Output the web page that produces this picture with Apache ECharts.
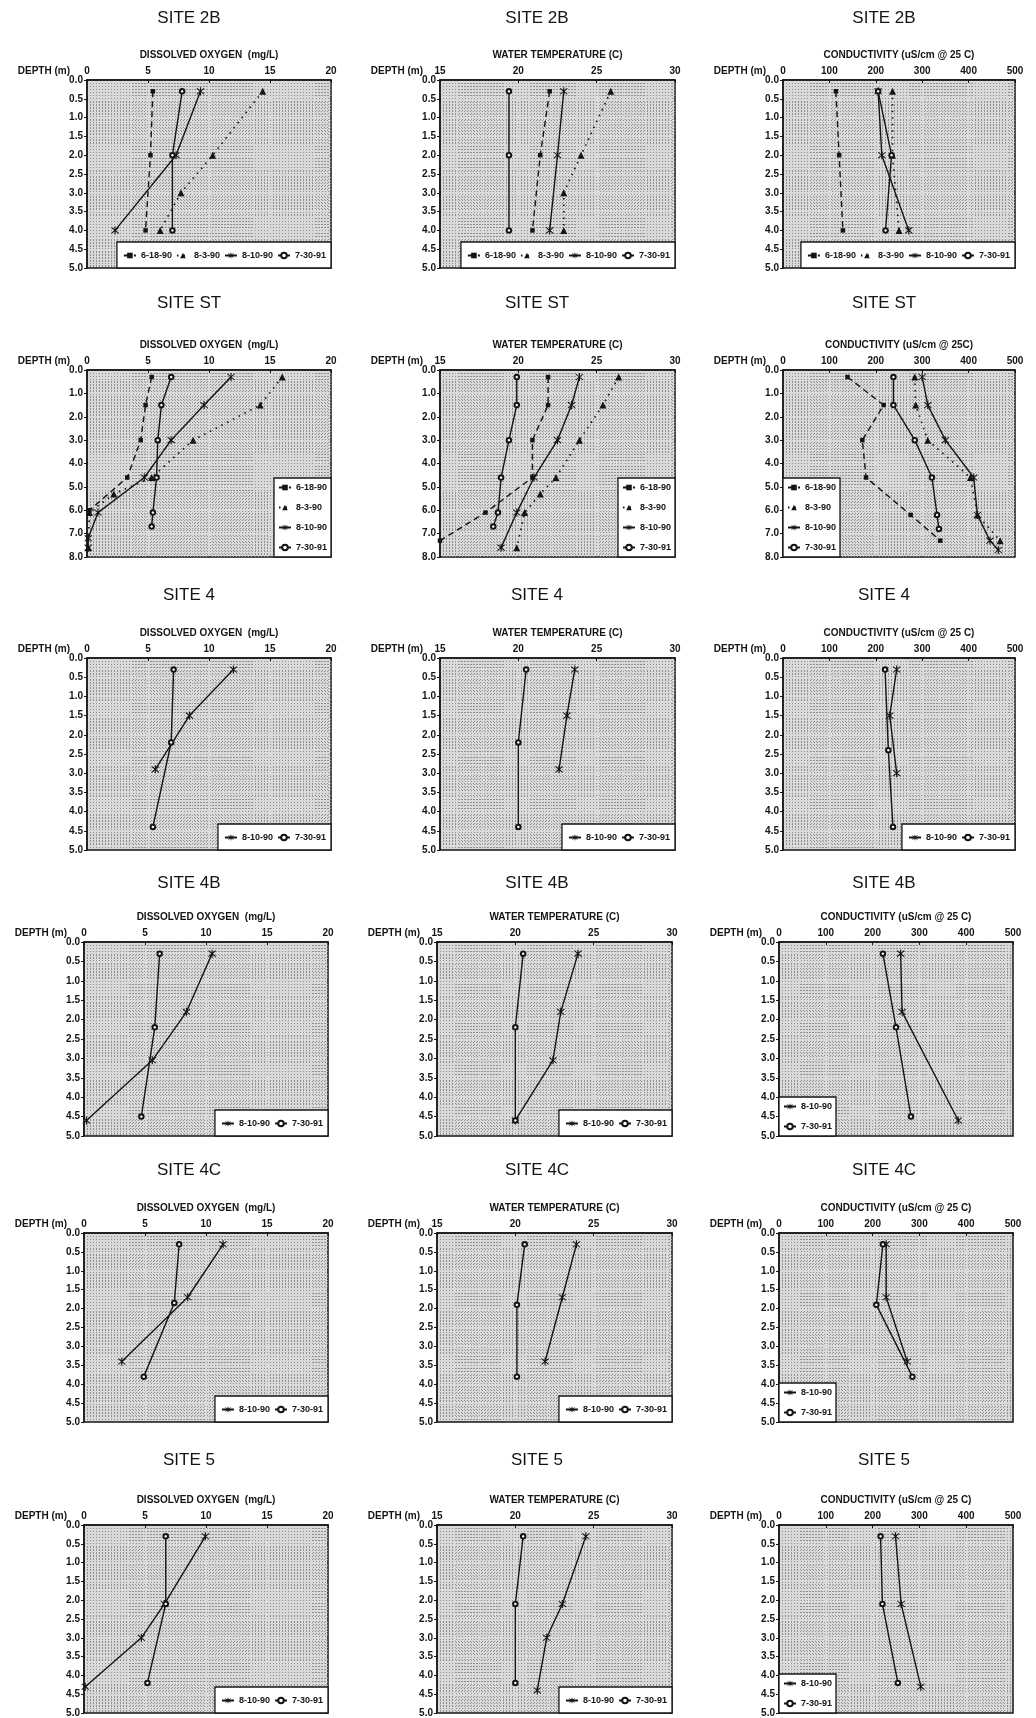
<!DOCTYPE html>
<html>
<head>
<meta charset="utf-8">
<script src="https://cdn.jsdelivr.net/npm/echarts@6/dist/echarts.min.js"></script>
<style>
html,body{margin:0;padding:0;background:#fff;}
#chart{width:1036px;height:1718px;}
</style>
</head>
<body>
<div id="chart"></div>
<script>
// ---------------- DATA ----------------
const siteNames = ['SITE 2B', 'SITE ST', 'SITE 4', 'SITE 4B', 'SITE 4C', 'SITE 5'];
const dates = ['6-18-90', '8-3-90', '8-10-90', '7-30-91'];
const paramNames = ['DISSOLVED OXYGEN  (mg/L)', 'WATER TEMPERATURE (C)', 'CONDUCTIVITY (uS/cm @ 25 C)'];
const condNameST = 'CONDUCTIVITY (uS/cm @ 25C)';
const depthLabel = 'DEPTH (m)';
const doTicks = [0, 5, 10, 15, 20];
const tempTicks = [15, 20, 25, 30];
const condTicks = [0, 100, 200, 300, 400, 500];
const depthTicks5 = [0, 0.5, 1, 1.5, 2, 2.5, 3, 3.5, 4, 4.5, 5];
const depthTicks8 = [0, 1, 2, 3, 4, 5, 6, 7, 8];

// values are [x, depth(m)]
// SITE 2B
const do2B_0618 = [[5.4, 0.3], [5.2, 2.0], [4.8, 4.0]];
const do2B_0803 = [[14.4, 0.3], [10.3, 2.0], [7.7, 3.0], [6.0, 4.0]];
const do2B_0810 = [[9.3, 0.3], [7.3, 2.0], [2.3, 4.0]];
const do2B_0730 = [[7.8, 0.3], [7.0, 2.0], [7.0, 4.0]];
const t2B_0618 = [[22.0, 0.3], [21.4, 2.0], [20.9, 4.0]];
const t2B_0803 = [[25.9, 0.3], [24.0, 2.0], [22.9, 3.0], [22.9, 4.0]];
const t2B_0810 = [[22.9, 0.3], [22.5, 2.0], [22.0, 4.0]];
const t2B_0730 = [[19.4, 0.3], [19.4, 2.0], [19.4, 4.0]];
const c2B_0618 = [[114, 0.3], [121, 2.0], [129, 4.0]];
const c2B_0803 = [[236, 0.3], [236, 2.0], [250, 4.0]];
const c2B_0810 = [[205, 0.3], [213, 2.0], [271, 4.0]];
const c2B_0730 = [[205, 0.3], [234, 2.0], [221, 4.0]];
// SITE ST
const doST_0618 = [[5.3, 0.3], [4.8, 1.5], [4.4, 3.0], [3.3, 4.6], [0.2, 6.0]];
const doST_0803 = [[16.0, 0.3], [14.2, 1.5], [8.7, 3.0], [5.3, 4.6], [2.2, 5.3], [0.2, 6.1], [0.1, 7.6]];
const doST_0810 = [[11.8, 0.3], [9.6, 1.5], [6.9, 3.0], [4.7, 4.6], [0.9, 6.1], [0.1, 7.2], [0.1, 7.6]];
const doST_0730 = [[6.9, 0.3], [6.1, 1.5], [5.8, 3.0], [5.7, 4.6], [5.4, 6.1], [5.3, 6.7]];
const tST_0618 = [[21.9, 0.3], [21.9, 1.5], [20.9, 3.0], [20.9, 4.6], [17.9, 6.1], [15.0, 7.3]];
const tST_0803 = [[26.4, 0.3], [25.4, 1.5], [23.9, 3.0], [22.4, 4.6], [21.4, 5.3], [20.4, 6.1], [19.9, 7.6]];
const tST_0810 = [[23.9, 0.3], [23.4, 1.5], [22.5, 3.0], [21.0, 4.6], [19.9, 6.1], [18.9, 7.6]];
const tST_0730 = [[19.9, 0.3], [19.9, 1.5], [19.4, 3.0], [18.9, 4.6], [18.7, 6.1], [18.4, 6.7]];
const cST_0618 = [[139, 0.3], [217, 1.5], [171, 3.0], [179, 4.6], [275, 6.2], [339, 7.3]];
const cST_0803 = [[284, 0.3], [286, 1.5], [312, 3.0], [404, 4.6], [419, 6.2], [468, 7.3]];
const cST_0810 = [[300, 0.3], [312, 1.5], [350, 3.0], [411, 4.6], [419, 6.2], [446, 7.3], [464, 7.7]];
const cST_0730 = [[238, 0.3], [238, 1.5], [284, 3.0], [321, 4.6], [332, 6.2], [336, 6.8]];
// SITE 4
const do4_0810 = [[12.0, 0.3], [8.4, 1.5], [5.6, 2.9]];
const do4_0730 = [[7.1, 0.3], [6.9, 2.2], [5.4, 4.4]];
const t4_0810 = [[23.6, 0.3], [23.1, 1.5], [22.6, 2.9]];
const t4_0730 = [[20.5, 0.3], [20.0, 2.2], [20.0, 4.4]];
const c4_0810 = [[245, 0.3], [230, 1.5], [245, 3.0]];
const c4_0730 = [[220, 0.3], [227, 2.4], [237, 4.4]];
// SITE 4B
const do4B_0810 = [[10.5, 0.3], [8.4, 1.8], [5.6, 3.05], [0.2, 4.6]];
const do4B_0730 = [[6.2, 0.3], [5.8, 2.2], [4.7, 4.5]];
const t4B_0810 = [[24.0, 0.3], [22.9, 1.8], [22.4, 3.05], [20.0, 4.6]];
const t4B_0730 = [[20.5, 0.3], [20.0, 2.2], [20.0, 4.6]];
const c4B_0810 = [[260, 0.3], [263, 1.8], [383, 4.6]];
const c4B_0730 = [[222, 0.3], [250, 2.2], [282, 4.5]];
// SITE 4C
const do4C_0810 = [[11.4, 0.3], [8.5, 1.7], [3.1, 3.4]];
const do4C_0730 = [[7.8, 0.3], [7.4, 1.85], [4.9, 3.8]];
const t4C_0810 = [[23.9, 0.3], [23.0, 1.7], [21.9, 3.4]];
const t4C_0730 = [[20.6, 0.3], [20.1, 1.9], [20.1, 3.8]];
const c4C_0810 = [[229, 0.3], [229, 1.7], [274, 3.4]];
const c4C_0730 = [[222, 0.3], [208, 1.9], [285, 3.8]];
// SITE 5
const do5_0810 = [[9.95, 0.3], [6.6, 2.1], [4.7, 3.0], [0.1, 4.3]];
const do5_0730 = [[6.7, 0.3], [6.7, 2.1], [5.2, 4.2]];
const t5_0810 = [[24.5, 0.3], [23.0, 2.1], [22.0, 3.0], [21.4, 4.4]];
const t5_0730 = [[20.5, 0.3], [20.0, 2.1], [20.0, 4.2]];
const c5_0810 = [[249, 0.3], [261, 2.1], [303, 4.3]];
const c5_0730 = [[217, 0.3], [221, 2.1], [254, 4.2]];

// ---------------- PANEL TABLE (built from the arrays) ----------------
const D = dates;
const panels = [
  // row, col, series [name, data], legend orient, legend corner
  [0, 0, [[D[0], do2B_0618], [D[1], do2B_0803], [D[2], do2B_0810], [D[3], do2B_0730]], 'h', 'br'],
  [0, 1, [[D[0], t2B_0618], [D[1], t2B_0803], [D[2], t2B_0810], [D[3], t2B_0730]], 'h', 'br'],
  [0, 2, [[D[0], c2B_0618], [D[1], c2B_0803], [D[2], c2B_0810], [D[3], c2B_0730]], 'h', 'br'],
  [1, 0, [[D[0], doST_0618], [D[1], doST_0803], [D[2], doST_0810], [D[3], doST_0730]], 'v', 'br'],
  [1, 1, [[D[0], tST_0618], [D[1], tST_0803], [D[2], tST_0810], [D[3], tST_0730]], 'v', 'br'],
  [1, 2, [[D[0], cST_0618], [D[1], cST_0803], [D[2], cST_0810], [D[3], cST_0730]], 'v', 'bl'],
  [2, 0, [[D[2], do4_0810], [D[3], do4_0730]], 'h', 'br'],
  [2, 1, [[D[2], t4_0810], [D[3], t4_0730]], 'h', 'br'],
  [2, 2, [[D[2], c4_0810], [D[3], c4_0730]], 'h', 'br'],
  [3, 0, [[D[2], do4B_0810], [D[3], do4B_0730]], 'h', 'br'],
  [3, 1, [[D[2], t4B_0810], [D[3], t4B_0730]], 'h', 'br'],
  [3, 2, [[D[2], c4B_0810], [D[3], c4B_0730]], 'v', 'bl'],
  [4, 0, [[D[2], do4C_0810], [D[3], do4C_0730]], 'h', 'br'],
  [4, 1, [[D[2], t4C_0810], [D[3], t4C_0730]], 'h', 'br'],
  [4, 2, [[D[2], c4C_0810], [D[3], c4C_0730]], 'v', 'bl'],
  [5, 0, [[D[2], do5_0810], [D[3], do5_0730]], 'h', 'br'],
  [5, 1, [[D[2], t5_0810], [D[3], t5_0730]], 'h', 'br'],
  [5, 2, [[D[2], c5_0810], [D[3], c5_0730]], 'v', 'bl']
];

// ---------------- LAYOUT / STYLE ----------------
const W = 1036, H = 1718;
const rowTop = [80, 370, 658, 942, 1233, 1525];
const rowBottom = [268, 557, 850, 1136, 1422, 1713];
const titleY = [18, 303, 595, 883, 1170, 1460];
const colLeftA = [87, 440, 783], colRightA = [331, 675, 1015];
const colLeftB = [84, 437, 779], colRightB = [328, 672, 1013];
const titleX = [189, 537, 884];
const FONT = "'Liberation Sans', Arial, Helvetica, sans-serif";
const INK = '#141414';
const asterisk = 'path://M4.4,0H5.6V10H4.4Z M0.9,1.7L1.7,0.9L9.1,8.3L8.3,9.1Z M8.3,0.9L9.1,1.7L1.7,9.1L0.9,8.3Z';
const seriesStyle = {
  '6-18-90': { symbol: 'rect', symbolSize: 4.5, line: { type: [6, 4], width: 1.4 } },
  '8-3-90': { symbol: 'triangle', symbolSize: 7, line: { type: [1.5, 5], width: 1.7 } },
  '8-10-90': { symbol: asterisk, symbolSize: 8, line: { type: 'solid', width: 1.4 } },
  '7-30-91': { symbol: 'emptyCircle', symbolSize: 4.5, line: { type: 'solid', width: 1.4 } }
};
const paramTicks = [doTicks, tempTicks, condTicks];
const minorSplits = [20, 25, 15];

const grids = [], xAxes = [], yAxes = [], series = [], legends = [], graphics = [];
const labelFont = { fontFamily: FONT, fontSize: 10, fontWeight: 'bold', color: INK };

panels.forEach((p, i) => {
  const [row, col, sers, orient, corner] = p;
  const left = (row < 3 ? colLeftA : colLeftB)[col];
  const right = (row < 3 ? colRightA : colRightB)[col];
  const top = rowTop[row], bottom = rowBottom[row];
  grids.push({
    left: left, top: top, width: right - left, height: bottom - top,
    show: true, backgroundColor: '#d9d9d9', borderColor: INK, borderWidth: 1.5
  });
  const ticks = paramTicks[col];
  const name = (row === 1 && col === 2) ? condNameST : paramNames[col];
  xAxes.push({
    type: 'value', gridIndex: i, position: 'top',
    min: ticks[0], max: ticks[ticks.length - 1], interval: ticks[1] - ticks[0],
    name: name, nameLocation: 'middle', nameGap: 20,
    nameTextStyle: { fontFamily: FONT, fontSize: 10, fontWeight: 'bold', color: INK },
    axisLine: { show: true, onZero: false, lineStyle: { color: INK, width: 1.5 } },
    axisTick: { show: true, inside: true, length: 3, lineStyle: { color: INK } },
    axisLabel: Object.assign({ margin: 4 }, labelFont),
    splitLine: { show: false },
    minorTick: { show: false, splitNumber: minorSplits[col] },
    minorSplitLine: { show: true, lineStyle: { color: '#8f8f8f', width: 1, type: [1, 2] } }
  });
  const dTicks = row === 1 ? depthTicks8 : depthTicks5;
  yAxes.push({
    type: 'value', gridIndex: i, inverse: true,
    min: dTicks[0], max: dTicks[dTicks.length - 1], interval: dTicks[1] - dTicks[0],
    axisLine: { show: true, onZero: false, lineStyle: { color: INK, width: 1.5 } },
    axisTick: { show: true, inside: false, length: 3, lineStyle: { color: INK } },
    axisLabel: Object.assign({ margin: 4, formatter: v => v.toFixed(1) }, labelFont),
    splitLine: { show: false },
    minorTick: { show: false, splitNumber: row === 1 ? 8 : 6 },
    minorSplitLine: { show: true, lineStyle: { color: '#8f8f8f', width: 1, type: [1, 2] } }
  });
  sers.forEach(([nm, data]) => {
    const st = seriesStyle[nm];
    series.push({
      type: 'line', name: nm, xAxisIndex: i, yAxisIndex: i, data: data,
      symbol: st.symbol, symbolSize: st.symbolSize, showAllSymbol: true,
      lineStyle: Object.assign({ color: INK }, st.line),
      itemStyle: { color: INK, borderColor: INK, borderWidth: nm === '7-30-91' ? 1.2 : 0 },
      emphasis: { disabled: true }, animation: false, z: 5
    });
  });
  const lg = {
    data: sers.map(s => s[0]), orient: orient === 'h' ? 'horizontal' : 'vertical',
    backgroundColor: '#ffffff', borderColor: INK, borderWidth: 1.3,
    itemWidth: 12, itemHeight: 7, itemGap: orient === 'h' ? 4 : 11,
    padding: orient === 'h' ? [9, 5, 8, 6] : [5, 4, 5, 4],
    textStyle: { fontFamily: FONT, fontSize: 9, fontWeight: 'bold', color: INK },
    bottom: H - bottom, selectedMode: false, z: 10
  };
  if (corner === 'br') lg.right = W - right; else lg.left = left;
  legends.push(lg);
  // texts
  graphics.push({
    type: 'text', x: titleX[col], y: titleY[row],
    style: { text: siteNames[row], fill: INK, font: '17px ' + FONT, textAlign: 'center', verticalAlign: 'middle', textVerticalAlign: 'middle' }
  });
  graphics.push({
    type: 'text', x: left - 17, y: top - 9,
    style: { text: depthLabel, fill: INK, font: 'bold 10px ' + FONT, textAlign: 'right', verticalAlign: 'middle', textVerticalAlign: 'middle' }
  });
});

const chart = echarts.init(document.getElementById('chart'), null, { renderer: 'canvas', width: W, height: H });
chart.setOption({
  backgroundColor: '#ffffff',
  animation: false,
  grid: grids, xAxis: xAxes, yAxis: yAxes, series: series, legend: legends,
  graphic: graphics
});
</script>
</body>
</html>
